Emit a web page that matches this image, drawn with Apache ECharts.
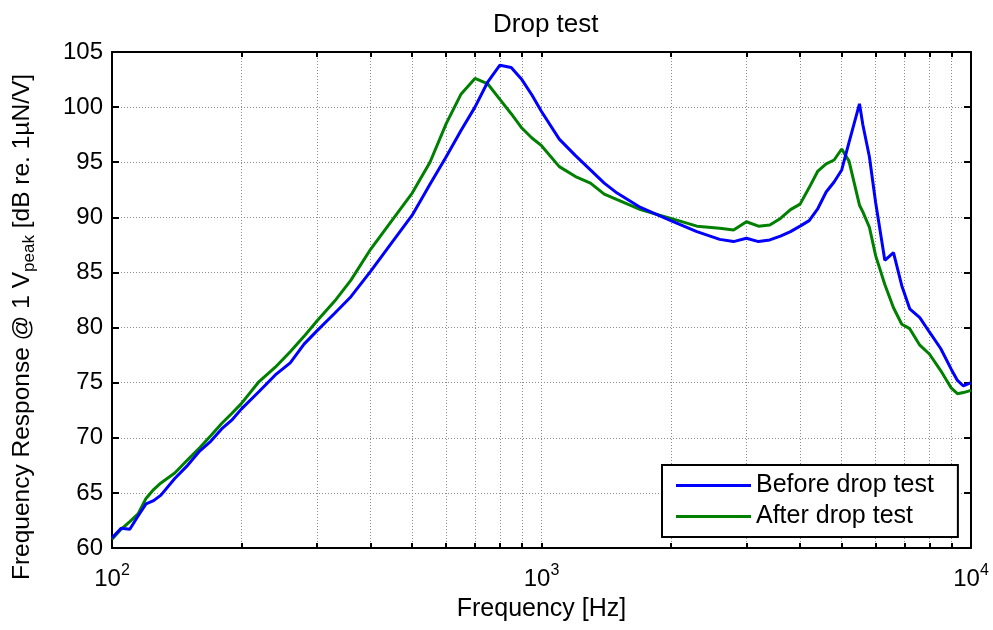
<!DOCTYPE html>
<html>
<head>
<meta charset="utf-8">
<script src="https://cdn.jsdelivr.net/npm/echarts@6/dist/echarts.min.js"></script>
<style>html,body{margin:0;padding:0;background:#fff}#c{width:993px;height:630px}</style>
</head>
<body>
<div id="c"></div>
<script>
const freqs = [100,105,110,115,120,125,130,140,150,160,170,180,190,200,220,240,260,280,300,330,360,400,450,500,550,600,650,700,750,800,850,900,950,1000,1100,1200,1300,1400,1500,1700,2000,2300,2600,2800,3000,3200,3400,3600,3800,4000,4200,4400,4600,4800,5000,5200,5500,5600,5800,6000,6300,6600,6900,7200,7600,8000,8500,9000,9300,9600,10000];
const beforeDb = [60.9,61.8,61.7,62.9,64.0,64.3,64.8,66.3,67.5,68.8,69.7,70.8,71.6,72.6,74.2,75.7,76.8,78.5,79.7,81.3,82.8,85.1,87.8,90.2,93.0,95.5,97.9,100.0,102.3,103.8,103.6,102.5,101.1,99.6,97.1,95.6,94.3,93.1,92.2,90.9,89.7,88.7,88.0,87.8,88.1,87.8,87.95,88.3,88.7,89.2,89.7,90.8,92.3,93.2,94.3,96.8,100.3,98.4,95.5,91.3,86.1,86.8,83.8,81.7,80.9,79.6,78.1,76.2,75.2,74.7,75.0];
const afterDb = [60.8,61.7,62.4,63.1,64.5,65.3,65.9,66.8,68.0,69.1,70.2,71.3,72.2,73.1,75.1,76.4,77.8,79.2,80.6,82.4,84.3,87.1,89.8,92.2,95.0,98.5,101.2,102.6,102.1,100.7,99.4,98.1,97.2,96.5,94.6,93.7,93.1,92.1,91.6,90.7,89.9,89.2,89.0,88.85,89.6,89.2,89.3,89.9,90.7,91.2,92.7,94.2,94.85,95.2,96.2,95.1,91.1,90.5,89.1,86.5,83.9,81.8,80.3,79.9,78.4,77.6,76.1,74.5,74.0,74.1,74.3];
const xTickValues = [100,200,300,400,500,600,700,800,900,1000,2000,3000,4000,5000,6000,7000,8000,9000,10000];
const xLabelValues = [100,1000,10000];
const seriesNames = ['Before drop test','After drop test'];
const titleText = 'Drop test';
const xName = 'Frequency [Hz]';

const FONT = 'Liberation Sans, Arial, sans-serif';
const chart = echarts.init(document.getElementById('c'));
const gridDotted = {show:true, lineStyle:{type:[1,2], color:'#8c8c8c', width:1}};
const blackLine = {show:true, lineStyle:{color:'#000', width:2}};
const xBase = {
  type:'log', logBase:10, min:100, max:10000,
  axisLine: blackLine,
  axisTick:{show:true, inside:true, length:5, customValues:xTickValues, lineStyle:{color:'#000', width:2}}
};
const yBase = {
  type:'value', min:60, max:105, interval:5,
  axisLine: blackLine,
  axisTick:{show:true, inside:true, length:7, lineStyle:{color:'#000', width:2}}
};
chart.setOption({
  animation:false,
  backgroundColor:'#fff',
  title:{text:titleText, left:488, top:7, textStyle:{fontFamily:FONT, fontSize:26, fontWeight:'normal', color:'#000'}},
  grid:{left:112, right:22, top:52, bottom:82, containLabel:false},
  legend:{
    data:seriesNames, orient:'vertical', left:662, top:465,
    icon:'rect', itemWidth:75, itemHeight:3, itemGap:6,
    padding:[8,24,8,14], borderColor:'#000', borderWidth:2, backgroundColor:'#fff',
    textStyle:{fontFamily:FONT, fontSize:25, color:'#000'}
  },
  xAxis:[
    Object.assign({}, xBase, {
      position:'bottom',
      splitLine: gridDotted,
      axisLabel:{customValues:xLabelValues, margin:15, color:'#000',
        formatter: v => '{b|10}{s|' + Math.round(Math.log10(v)) + '}',
        rich:{b:{fontFamily:FONT, fontSize:24, color:'#000'}, s:{fontFamily:FONT, fontSize:16, color:'#000', padding:[0,0,17,0]}}},
      name:xName, nameLocation:'middle', nameGap:47,
      nameTextStyle:{fontFamily:FONT, fontSize:25, color:'#000'}
    }),
    Object.assign({}, xBase, {position:'top', axisLabel:{show:false}, splitLine:{show:false}})
  ],
  yAxis:[
    Object.assign({}, yBase, {
      position:'left',
      splitLine: gridDotted,
      axisLabel:{fontFamily:FONT, fontSize:24, color:'#000', margin:9},
      name:'{t|Frequency Response @ 1 V}{sub|peak}{t| [dB re. 1\u00b5N/V]}',
      nameLocation:'middle', nameGap:74, nameRotate:90,
      nameTextStyle:{padding:[0,54,0,0], rich:{t:{fontFamily:FONT, fontSize:24.5, color:'#000'}, sub:{fontFamily:FONT, fontSize:17, color:'#000', padding:[15,0,0,0]}}}
    }),
    Object.assign({}, yBase, {position:'right', axisLabel:{show:false}, splitLine:{show:false}})
  ],
  series:[
    {name:seriesNames[0], type:'line', showSymbol:false, data:freqs.map((f,i)=>[f, beforeDb[i]]), lineStyle:{color:'#0000ff', width:3}, itemStyle:{color:'#0000ff'}, z:3},
    {name:seriesNames[1], type:'line', showSymbol:false, data:freqs.map((f,i)=>[f, afterDb[i]]), lineStyle:{color:'#008000', width:3}, itemStyle:{color:'#008000'}, z:2}
  ]
});
</script>
</body>
</html>
